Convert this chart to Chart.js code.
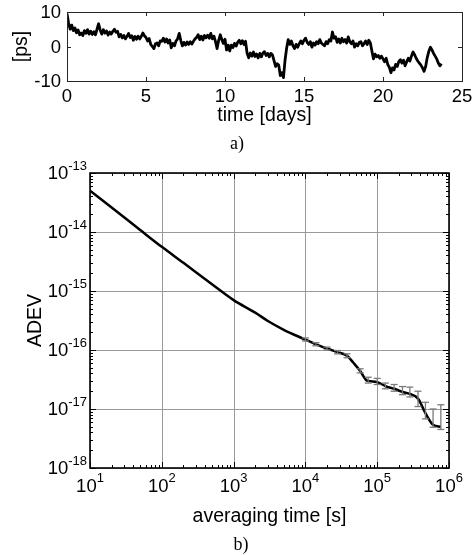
<!DOCTYPE html>
<html><head><meta charset="utf-8">
<script src="https://cdn.jsdelivr.net/npm/chart.js@4.4.1/dist/chart.umd.min.js"></script>
<style>
html,body{margin:0;padding:0;background:#fff;width:474px;height:555px;overflow:hidden;}
canvas{position:absolute;left:0;}
#c1{top:0}
#c2{top:150px}
</style></head><body>
<canvas id="c1" width="474" height="160"></canvas>
<canvas id="c2" width="474" height="405"></canvas>
<script>
// ---------- data: panel a) time-interval residuals ----------
const sampleStepDays = 0.1;
const phasePs = [
 9.5, 6.8, 5.0, 6.2, 4.6, 5.4, 4.0, 4.8, 3.4, 3.9,
 3.2, 4.6, 3.8, 4.9, 3.6, 4.4, 3.5, 4.3, 3.4, 5.0,
 6.6, 4.8, 3.6, 4.9, 3.9, 4.5, 3.3, 4.2, 3.6, 4.4,
 5.0, 4.1, 4.4, 2.8, 3.5, 2.5, 3.2, 2.2, 3.0, 3.8,
 2.6, 3.1, 1.8, 2.9, 2.1, 3.0, 2.2, 2.9, 3.9, 3.1,
 2.6, 1.6, 2.3, 0.6, 0.0, -0.6, 0.8, 1.0, 0.2, 1.6,
 1.5, 2.4, 1.3, 2.2, 1.0, 1.9, -0.4, 0.9, 0.2, 1.6,
 2.2, 3.8, 1.8, 0.2, 1.2, 0.4, 1.3, 0.6, 1.4, 0.7,
 1.5, 2.2, 2.6, 3.4, 2.0, 3.0, 1.9, 3.2, 2.5, 3.3,
 2.4, 3.8, 2.2, 3.0, 1.4, -0.6, 1.8, 3.4, 2.0, 0.9,
 2.1, -1.0, 0.4, -1.3, 0.4, -0.3, 0.9, 0.1, 1.2, 1.8,
 0.8, 1.7, 0.6, 1.5, -2.0, -3.3, -1.9, -2.8, -1.6, -2.9,
 -2.2, -3.3, -2.0, -3.0, -1.9, -1.5, -2.6, -2.0, -3.0, -2.0,
 -2.4, -4.0, -5.8, -5.0, -5.4, -8.4, -7.6, -9.0, -4.0, -0.5,
 2.0, 0.6, 1.6, 0.2, -0.6, 0.6, -0.2, 0.8, 1.6, 0.8,
 1.8, 2.4, 1.2, 0.6, 1.4, -0.2, 1.0, 0.4, 1.4, 0.8,
 2.0, 1.0, 0.6, 0.2, 1.4, 0.8, 2.0, 1.6, 4.2, 2.4,
 2.8, 1.2, 2.2, 1.0, 2.4, 1.4, 2.0, 1.0, 2.8, 1.4,
 0.8, 1.6, -0.2, 0.8, 0.2, 1.2, 1.4, 0.2, 0.8, 1.6,
 0.6, 1.8, 1.0, -1.4, -3.6, -2.2, -3.0, -2.6, -3.4, -2.8,
 -3.6, -4.4, -3.4, -5.2, -6.0, -7.6, -6.2, -6.8, -5.2, -5.8,
 -4.4, -3.8, -4.8, -4.0, -5.6, -4.4, -3.4, -4.2, -2.8, -1.6,
 -2.4, -3.4, -4.2, -4.8, -5.4, -6.2, -7.2, -5.8, -3.2, -1.4,
 -0.2, -1.0, -2.0, -2.8, -3.6, -4.8, -5.6, -5.0
];
const xTicksA = [0, 5, 10, 15, 20, 25];
const yTicksA = [-10, 0, 10];

// ---------- data: panel b) Allan deviation ----------
const tau  = [10, 20, 50, 100, 200, 500, 1000, 2000, 3000, 5000, 10000, 14000, 20000, 28000, 38000, 46000, 58000, 70000, 75000, 100000, 130000, 172000, 225000, 285000, 370000, 470000, 600000, 770000];
const adev = [5.0e-14, 2.6e-14, 1.08e-14, 5.6e-15, 3.0e-15, 1.3e-15, 7.0e-16, 4.3e-16, 3.1e-16, 2.2e-16, 1.5e-16, 1.25e-16, 1.06e-16, 9.2e-17, 8.0e-17, 6.2e-17, 4.4e-17, 3.1e-17, 3.0e-17, 2.85e-17, 2.45e-17, 2.2e-17, 1.95e-17, 1.8e-17, 1.5e-17, 8.5e-18, 5.4e-18, 5.0e-18];
const errTau  = [10000, 14000, 20000, 28000, 38000, 58000, 75000, 100000, 130000, 172000, 225000, 285000, 370000, 470000, 600000, 770000];
const errLow  = [1.42e-16, 1.18e-16, 1.0e-16, 8.6e-17, 7.4e-17, 4.1e-17, 2.75e-17, 2.6e-17, 2.2e-17, 2.0e-17, 1.75e-17, 1.6e-17, 1.1e-17, 6.8e-18, 4.9e-18, 4.5e-18];
const errHigh = [1.6e-16, 1.33e-16, 1.12e-16, 9.8e-17, 8.6e-17, 4.8e-17, 3.45e-17, 3.3e-17, 2.75e-17, 2.6e-17, 2.4e-17, 2.35e-17, 2.0e-17, 1.3e-17, 1.0e-17, 1.18e-17];
const xExpB = [1, 2, 3, 4, 5, 6];
const yExpB = [-13, -14, -15, -16, -17, -18];

const SANS = '"Liberation Sans", Arial, Helvetica, sans-serif';
const SERIF = '"Liberation Serif", "Times New Roman", serif';

function seg(ctx, x1, y1, x2, y2) { ctx.beginPath(); ctx.moveTo(x1, y1); ctx.lineTo(x2, y2); ctx.stroke(); }

// ---------- panel a) ----------
const axesA = {
  id: 'axesA',
  afterDraw(chart) {
    const { ctx, chartArea: a, scales: { x, y } } = chart;
    ctx.save();
    ctx.strokeStyle = '#262626'; ctx.lineWidth = 1;
    ctx.strokeRect(Math.round(a.left) + 0.5, Math.round(a.top) + 0.5, Math.round(a.right - a.left), Math.round(a.bottom - a.top));
    xTicksA.forEach(v => {
      const px = Math.round(x.getPixelForValue(v)) + 0.5;
      seg(ctx, px, a.bottom, px, a.bottom - 4);
      seg(ctx, px, a.top, px, a.top + 4);
    });
    yTicksA.forEach(v => {
      const py = Math.round(y.getPixelForValue(v)) + 0.5;
      seg(ctx, a.left, py, a.left + 4, py);
      seg(ctx, a.right, py, a.right - 4, py);
    });
    ctx.fillStyle = '#000';
    ctx.font = '18.5px ' + SANS;
    ctx.textAlign = 'center'; ctx.textBaseline = 'middle';
    xTicksA.forEach(v => ctx.fillText(String(v), x.getPixelForValue(v), 97));
    ctx.textAlign = 'right';
    yTicksA.forEach(v => ctx.fillText(String(v), a.left - 6, y.getPixelForValue(v) + 1));
    ctx.font = '19.5px ' + SANS;
    ctx.textAlign = 'center';
    ctx.fillText('time [days]', (a.left + a.right) / 2, 116);
    ctx.save();
    ctx.translate(22, (a.top + a.bottom) / 2);
    ctx.rotate(-Math.PI / 2);
    ctx.fillText('[ps]', 0, 0);
    ctx.restore();
    ctx.font = '18px ' + SERIF;
    ctx.fillText('a)', 237, 144);
    ctx.restore();
  }
};

new Chart(document.getElementById('c1'), {
  type: 'line',
  data: { datasets: [{
    data: phasePs.map((v, i) => ({ x: i * sampleStepDays, y: v })),
    borderColor: '#000', borderWidth: 2.8, borderJoinStyle: 'round', pointRadius: 0, tension: 0, fill: false
  }] },
  options: {
    responsive: false, animation: false, events: [],
    plugins: { legend: { display: false }, tooltip: { enabled: false } },
    layout: { padding: { left: 67, top: 12, right: 12, bottom: 79 } },
    scales: {
      x: { type: 'linear', min: 0, max: 25, display: false },
      y: { type: 'linear', min: -10, max: 10, display: false }
    }
  },
  plugins: [axesA]
});

// ---------- panel b) ----------
const axesB = {
  id: 'axesB',
  beforeDatasetsDraw(chart) {
    const { ctx, chartArea: a, scales: { x, y } } = chart;
    ctx.save();
    ctx.strokeStyle = '#9a9a9a'; ctx.lineWidth = 1;
    xExpB.forEach(e => {
      const px = Math.round(x.getPixelForValue(Math.pow(10, e))) + 0.5;
      seg(ctx, px, a.top, px, a.bottom);
    });
    yExpB.forEach(e => {
      const py = Math.round(y.getPixelForValue(Math.pow(10, e))) + 0.5;
      seg(ctx, a.left, py, a.right, py);
    });
    ctx.restore();
  },
  afterDatasetsDraw(chart) {
    const { ctx, scales: { x, y } } = chart;
    ctx.save();
    ctx.strokeStyle = '#7a7a7a'; ctx.lineWidth = 1.3;
    errTau.forEach((t, i) => {
      const px = x.getPixelForValue(t);
      const y1 = y.getPixelForValue(errLow[i]);
      const y2 = y.getPixelForValue(errHigh[i]);
      seg(ctx, px, y1, px, y2);
      seg(ctx, px - 3.5, y1, px + 3.5, y1);
      seg(ctx, px - 3.5, y2, px + 3.5, y2);
    });
    ctx.restore();
  },
  afterDraw(chart) {
    const { ctx, chartArea: a, scales: { x, y } } = chart;
    ctx.save();
    ctx.strokeStyle = '#000'; ctx.lineWidth = 1;
    for (let e = 1; e < 6; e++) {
      for (let m = 1; m <= 10; m++) {
        const v = m * Math.pow(10, e);
        const px = Math.round(x.getPixelForValue(v)) + 0.5;
        const len = (m === 1 || m === 10) ? 6 : 3;
        seg(ctx, px, a.bottom, px, a.bottom - len);
        seg(ctx, px, a.top, px, a.top + len);
      }
    }
    for (let e = -18; e < -13; e++) {
      for (let m = 1; m <= 10; m++) {
        const v = m * Math.pow(10, e);
        const py = Math.round(y.getPixelForValue(v)) + 0.5;
        const len = (m === 1 || m === 10) ? 6 : 3;
        seg(ctx, a.left, py, a.left + len, py);
        seg(ctx, a.right, py, a.right - len, py);
      }
    }
    ctx.lineWidth = 1.6;
    ctx.strokeRect(a.left, a.top, a.right - a.left, a.bottom - a.top);
    ctx.fillStyle = '#000';
    ctx.textBaseline = 'middle';
    const big = '18.5px ' + SANS, small = '13px ' + SANS;
    yExpB.forEach(e => {
      const py = y.getPixelForValue(Math.pow(10, e));
      const sup = String(e);
      ctx.font = small; const ws = ctx.measureText(sup).width;
      const right = a.left - 3;
      ctx.textAlign = 'right';
      ctx.fillText(sup, right, py - 7);
      ctx.font = big;
      ctx.fillText('10', right - ws, py + 1);
    });
    xExpB.forEach(e => {
      const px = x.getPixelForValue(Math.pow(10, e));
      const sup = String(e);
      ctx.font = big; const wb = ctx.measureText('10').width;
      ctx.font = small; const ws = ctx.measureText(sup).width;
      const left = px - (wb + ws) / 2;
      ctx.textAlign = 'left';
      ctx.font = big; ctx.fillText('10', left, 337);
      ctx.font = small; ctx.fillText(sup, left + wb, 328);
    });
    ctx.textAlign = 'center';
    ctx.font = '19.5px ' + SANS;
    ctx.fillText('averaging time [s]', (a.left + a.right) / 2, 367);
    ctx.save();
    ctx.translate(36, (a.top + a.bottom) / 2);
    ctx.rotate(-Math.PI / 2);
    ctx.fillText('ADEV', 0, 0);
    ctx.restore();
    ctx.font = '18px ' + SERIF;
    ctx.fillText('b)', 241, 395);
    ctx.restore();
  }
};

new Chart(document.getElementById('c2'), {
  type: 'line',
  data: { datasets: [{
    data: tau.map((t, i) => ({ x: t, y: adev[i] })),
    borderColor: '#000', borderWidth: 2.5, pointRadius: 0, fill: false,
    cubicInterpolationMode: 'monotone'
  }] },
  options: {
    responsive: false, animation: false, events: [],
    plugins: { legend: { display: false }, tooltip: { enabled: false } },
    layout: { padding: { left: 90, top: 23, right: 25, bottom: 87 } },
    scales: {
      x: { type: 'logarithmic', min: 10, max: 1e6, display: false },
      y: { type: 'logarithmic', min: 1e-18, max: 1e-13, display: false }
    }
  },
  plugins: [axesB]
});
</script>
</body></html>
